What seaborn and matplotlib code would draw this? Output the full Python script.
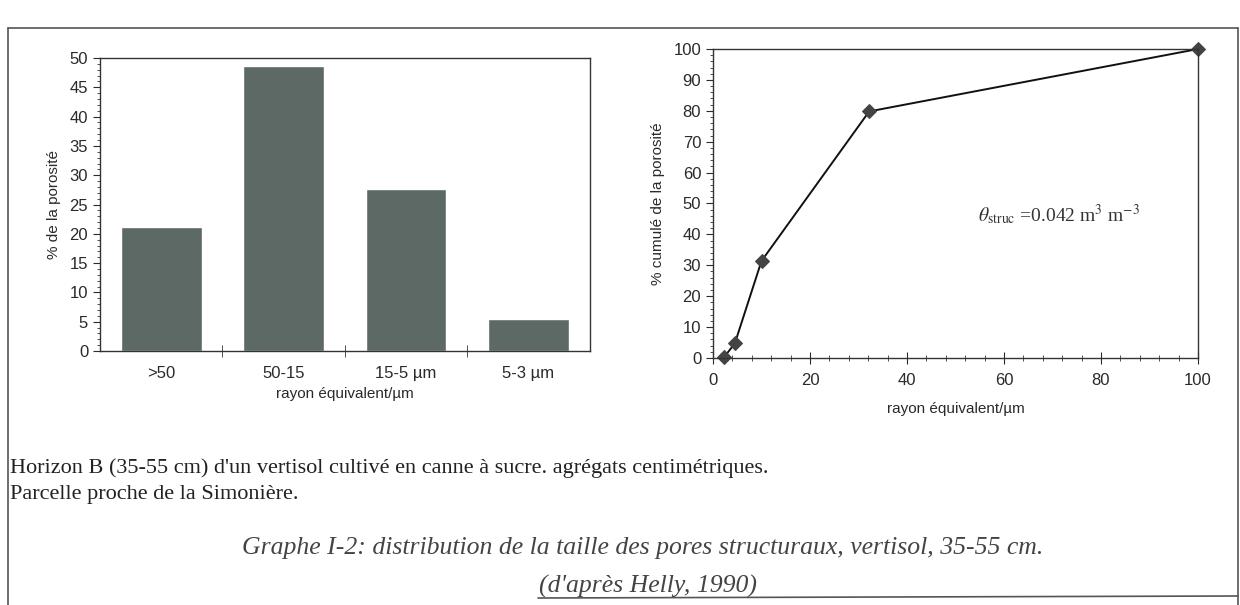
import numpy as np
import matplotlib
matplotlib.use("Agg")
import matplotlib.pyplot as plt
import matplotlib.ticker as mticker
from matplotlib.lines import Line2D
import pandas as pd
import seaborn as sns

# données
classes = [">50", "50-15", "15-5 µm", "5-3 µm"]
porosite = [21.2, 48.6, 27.6, 5.5]

rayon = [2.3, 4.5, 10, 32.2, 100]
porosite_cumul = [0.3, 4.7, 31.4, 79.8, 100]

sns.set_style("ticks")
plt.rcParams["font.family"] = ["Liberation Sans", "DejaVu Sans"]
plt.rcParams["mathtext.fontset"] = "stix"

BAR = "#5d6964"
AXC = "#333333"
TXT = "#2a2a2a"

fig = plt.figure(figsize=(12.4, 6.05), dpi=100)

# --- histogramme ---
ax1 = fig.add_axes([0.0806, 0.4198, 0.395, 0.4843])
df1 = pd.DataFrame({"classe": classes, "porosite": porosite})
sns.barplot(data=df1, x="classe", y="porosite", color=BAR, saturation=1,
            width=0.66, ax=ax1)
ax1.set_ylim(0, 50)
ax1.set_xlim(-0.5, 3.5)
ax1.yaxis.set_major_locator(mticker.MultipleLocator(5))
ax1.yaxis.set_minor_locator(mticker.MultipleLocator(1))
ax1.set_xticks(range(4))
ax1.set_xticklabels(classes)
ax1.tick_params(axis="x", length=0, pad=11, labelsize=12, colors=TXT)
ax1.xaxis.set_minor_locator(mticker.FixedLocator([0.5, 1.5, 2.5]))
ax1.tick_params(axis="x", which="minor", direction="inout", length=8, color=AXC)
ax1.tick_params(axis="y", which="major", length=5, labelsize=12, colors=TXT)
ax1.tick_params(axis="y", which="minor", length=2.5, color=AXC)
ax1.set_xlabel("rayon équivalent/µm", fontsize=11, labelpad=4, color=TXT)
ax1.set_ylabel("% de la porosité", fontsize=11, labelpad=6, color=TXT)
for s in ax1.spines.values():
    s.set_visible(True)
    s.set_color(AXC)
    s.set_linewidth(1.0)

# --- courbe cumulée ---
ax2 = fig.add_axes([713 / 1240, 0.4083, 485 / 1240, 0.5107])
df2 = pd.DataFrame({"rayon": rayon, "cumul": porosite_cumul})
sns.lineplot(data=df2, x="rayon", y="cumul", color="#111111", linewidth=1.4,
             marker="D", markersize=7, markerfacecolor="#444444",
             markeredgecolor="#444444", clip_on=False, ax=ax2)
ax2.set_xlim(0, 100)
ax2.set_ylim(0, 100)
ax2.xaxis.set_major_locator(mticker.MultipleLocator(20))
ax2.xaxis.set_minor_locator(mticker.MultipleLocator(4))
ax2.yaxis.set_major_locator(mticker.MultipleLocator(10))
ax2.yaxis.set_minor_locator(mticker.MultipleLocator(2))
ax2.tick_params(axis="x", which="major", direction="inout", length=8,
                pad=7, labelsize=12, colors=TXT)
ax2.tick_params(axis="x", which="minor", direction="inout", length=4, color=AXC)
ax2.tick_params(axis="y", which="major", length=5, labelsize=12, colors=TXT)
ax2.tick_params(axis="y", which="minor", length=2.5, color=AXC)
ax2.set_xlabel("rayon équivalent/µm", fontsize=11, labelpad=10, color=TXT)
ax2.set_ylabel("% cumulé de la porosité", fontsize=11, labelpad=6, color=TXT)
for s in ax2.spines.values():
    s.set_visible(True)
    s.set_color(AXC)
    s.set_linewidth(1.0)
ax2.text(54.6, 46.4, r"$\theta_{\rm struc}$ =0.042 m$^{3}$ m$^{-3}$",
         fontsize=14, family="Liberation Serif", color="#333333", va="center")

# --- textes de la légende du document ---
fig.text(10 / 1240, 1 - 468 / 605,
         "Horizon B (35-55 cm) d'un vertisol cultivé en canne à sucre. agrégats centimétriques.",
         family="Liberation Serif", fontsize=16, va="center", ha="left", color="#222222")
fig.text(10 / 1240, 1 - 494 / 605, "Parcelle proche de la Simonière.",
         family="Liberation Serif", fontsize=16, va="center", ha="left", color="#222222")
fig.text(643 / 1240, 1 - 548 / 605,
         "Graphe I-2: distribution de la taille des pores structuraux, vertisol, 35-55 cm.",
         family="Liberation Serif", style="italic", fontsize=18.5, va="center",
         ha="center", color="#444444")
fig.text(648 / 1240, 1 - 586 / 605, "(d'après Helly, 1990)",
         family="Liberation Serif", style="italic", fontsize=18.5, va="center",
         ha="center", color="#444444")

# cadre de la page
W, H = 1240, 605
frame = [
    ([8, 8], [605, 28]),
    ([8, 1238], [28, 28]),
    ([1238, 1238], [28, 605]),
    ([538, 1238], [598, 596]),
]
for xs, ys in frame:
    fig.add_artist(Line2D([x / W for x in xs], [1 - y / H for y in ys],
                          color="#555555", linewidth=1.2))

fig.savefig("out.png", dpi=100)
